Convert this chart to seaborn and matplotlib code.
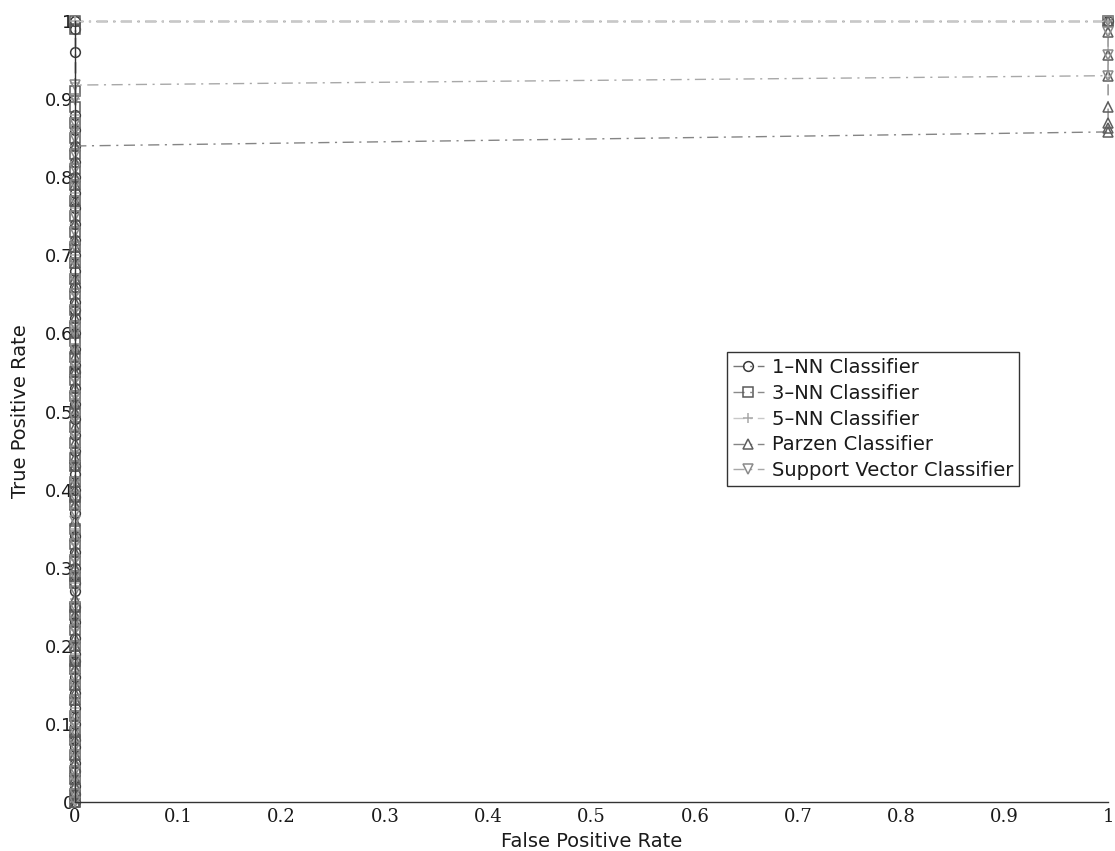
import numpy as np
import pandas as pd
import matplotlib
matplotlib.use("Agg")
import matplotlib.pyplot as plt
import seaborn as sns

# ROC points: true positive rates reached while
# the false positive rate is still 0, then the points at false positive rate 1
classifiers = ["1\u2013NN Classifier", "3\u2013NN Classifier", "5\u2013NN Classifier",
               "Parzen Classifier", "Support Vector Classifier"]

nn1_tpr_fpr0 = [0.0, 0.01, 0.02, 0.04, 0.05, 0.07, 0.08, 0.10, 0.12, 0.14, 0.16, 0.18,
                0.19, 0.21, 0.23, 0.25, 0.27, 0.28, 0.30, 0.32, 0.34, 0.37, 0.39, 0.40,
                0.42, 0.43, 0.45, 0.47, 0.49, 0.51, 0.53, 0.55, 0.56, 0.58, 0.60, 0.62,
                0.63, 0.64, 0.66, 0.68, 0.70, 0.72, 0.74, 0.76, 0.78, 0.80, 0.82, 0.84,
                0.86, 0.88, 0.96, 0.99, 1.0]
nn1_tpr_fpr1 = [1.0]

nn3_tpr_fpr0 = [0.0, 0.01, 0.03, 0.04, 0.06, 0.08, 0.09, 0.11, 0.13, 0.15, 0.17, 0.18,
                0.20, 0.22, 0.24, 0.25, 0.28, 0.29, 0.31, 0.33, 0.35, 0.38, 0.39, 0.41,
                0.43, 0.44, 0.46, 0.48, 0.50, 0.52, 0.54, 0.55, 0.57, 0.59, 0.61, 0.63,
                0.65, 0.67, 0.69, 0.71, 0.73, 0.75, 0.77, 0.79, 0.81, 0.83, 0.85, 0.87,
                0.89, 0.91, 0.99, 1.0]
nn3_tpr_fpr1 = [1.0]

nn5_tpr_fpr0 = [0.0, 0.02, 0.03, 0.05, 0.06, 0.08, 0.10, 0.12, 0.13, 0.15, 0.17, 0.19,
                0.20, 0.22, 0.24, 0.26, 0.28, 0.30, 0.31, 0.33, 0.35, 0.38, 0.40, 0.41,
                0.43, 0.45, 0.47, 0.49, 0.50, 0.52, 0.54, 0.56, 0.58, 0.60, 0.61, 0.63,
                0.65, 0.67, 0.69, 0.70, 0.72, 0.74, 0.76, 0.78, 0.80, 0.82, 0.84, 0.86,
                0.88, 0.90, 0.92, 1.0]
nn5_tpr_fpr1 = [1.0]

parzen_tpr_fpr0 = [0.0, 0.01, 0.02, 0.03, 0.05, 0.06, 0.08, 0.09, 0.11, 0.13, 0.14, 0.15,
                   0.17, 0.18, 0.20, 0.21, 0.23, 0.24, 0.26, 0.29, 0.30, 0.32, 0.34, 0.36,
                   0.38, 0.40, 0.41, 0.43, 0.44, 0.46, 0.48, 0.50, 0.51, 0.53, 0.55, 0.57,
                   0.58, 0.60, 0.62, 0.64, 0.66, 0.67, 0.69, 0.71, 0.72, 0.74, 0.77, 0.79,
                   0.80, 0.82, 0.84]
parzen_tpr_fpr1 = [0.858, 0.863, 0.869, 0.890, 0.930, 0.956, 0.986, 1.0]

svc_tpr_fpr0 = [0.0, 0.01, 0.03, 0.04, 0.06, 0.07, 0.09, 0.10, 0.11, 0.13, 0.15, 0.16,
                0.18, 0.20, 0.22, 0.23, 0.25, 0.27, 0.29, 0.31, 0.33, 0.34, 0.36, 0.37,
                0.39, 0.41, 0.43, 0.45, 0.47, 0.49, 0.51, 0.52, 0.54, 0.56, 0.58, 0.60,
                0.61, 0.63, 0.65, 0.67, 0.69, 0.71, 0.73, 0.75, 0.77, 0.79, 0.81, 0.83,
                0.85, 0.86, 0.87, 0.90, 0.918]
svc_tpr_fpr1 = [0.930, 0.956, 0.986, 1.0]

tpr_fpr0 = [nn1_tpr_fpr0, nn3_tpr_fpr0, nn5_tpr_fpr0, parzen_tpr_fpr0, svc_tpr_fpr0]
tpr_fpr1 = [nn1_tpr_fpr1, nn3_tpr_fpr1, nn5_tpr_fpr1, parzen_tpr_fpr1, svc_tpr_fpr1]

x_tick_labels = ["0", "0.1", "0.2", "0.3", "0.4", "0.5", "0.6", "0.7", "0.8", "0.9", "1"]
y_tick_labels = ["0", "0.1", "0.2", "0.3", "0.4", "0.5", "0.6", "0.7", "0.8", "0.9", "1"]

# long table for seaborn
rows = []
for name, lo, hi in zip(classifiers, tpr_fpr0, tpr_fpr1):
    order = 0
    for t in lo:
        rows.append({"classifier": name, "fpr": 0.0, "tpr": t, "order": order})
        order += 1
    for t in hi:
        rows.append({"classifier": name, "fpr": 1.0, "tpr": t, "order": order})
        order += 1
df = pd.DataFrame(rows)

sns.set_theme(style="white")
plt.rcParams["font.family"] = ["DejaVu Sans"]
plt.rcParams["text.color"] = "#1a1a1a"

line_colors = ["#777777", "#8a8a8a", "#c8c8c8", "#858585", "#a8a8a8"]
marker_colors = ["#3a3a3a", "#5a5a5a", "#a8a8a8", "#5e5e5e", "#8a8a8a"]
marker_shapes = ["o", "s", "+", "^", "v"]
dash_dot = (0, (8, 4, 1.5, 4))

fig = plt.figure(figsize=(11.15, 8.51), dpi=100)
ax = fig.add_axes([0.0673, 0.0576, 0.9265, 0.9177])

for name, lc, mc, mk in zip(classifiers, line_colors, marker_colors, marker_shapes):
    sub = df[df["classifier"] == name]
    sns.lineplot(data=sub, x="fpr", y="tpr", ax=ax, sort=False, estimator=None,
                 color=lc, linestyle=dash_dot, linewidth=1.0, marker=mk, markersize=7,
                 markerfacecolor="none", markeredgecolor=mc, markeredgewidth=1.1,
                 label=name, clip_on=False)

ax.set_xlim(0, 1)
ax.set_ylim(0, 1)
ax.set_xticks(np.linspace(0, 1, 11))
ax.set_yticks(np.linspace(0, 1, 11))
ax.set_xticklabels(x_tick_labels, fontfamily="DejaVu Serif", fontsize=13, color="#1a1a1a")
ax.set_yticklabels(y_tick_labels, fontsize=13, color="#1a1a1a")
ax.tick_params(axis="both", direction="in", length=5, width=1, color="#333333")
ax.tick_params(axis="x", pad=4)
ax.tick_params(axis="y", pad=1)

ax.spines["top"].set_visible(False)
ax.spines["right"].set_visible(False)
for side in ["left", "bottom"]:
    ax.spines[side].set_color("#333333")
    ax.spines[side].set_linewidth(1.0)

ax.set_xlabel("False Positive Rate", fontsize=14, labelpad=5, color="#1a1a1a")
ax.set_ylabel("True Positive Rate", fontsize=14, labelpad=11, color="#1a1a1a")

leg = ax.legend(loc="upper left", bbox_to_anchor=(0.631, 0.576), fontsize=14,
                frameon=True, fancybox=False, edgecolor="#333333", framealpha=1,
                handlelength=1.6, handletextpad=0.4, labelspacing=0.35,
                borderpad=0.3, borderaxespad=0)
leg.get_frame().set_linewidth(1.0)

fig.savefig("out.png", dpi=100)
